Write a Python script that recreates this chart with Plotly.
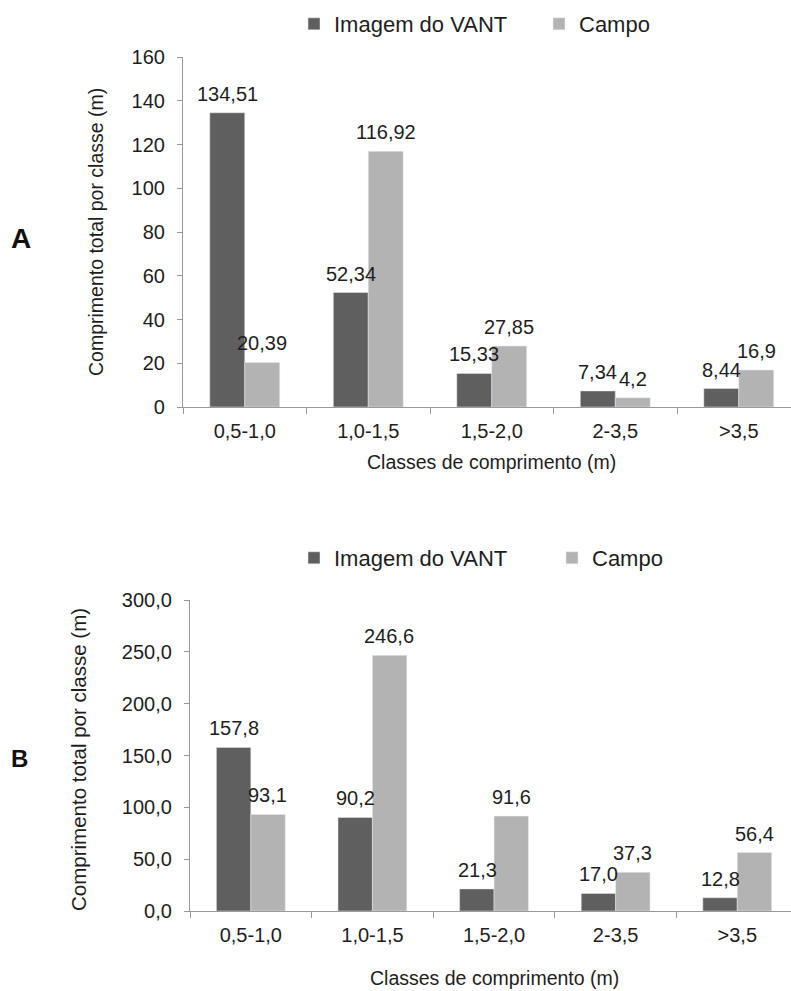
import plotly.graph_objects as go

W, H = 791, 991

categories = ["0,5-1,0", "1,0-1,5", "1,5-2,0", "2-3,5", ">3,5"]
series_names = ["Imagem do VANT", "Campo"]

# Panel A
a_vant = [134.51, 52.34, 15.33, 7.34, 8.44]
a_campo = [20.39, 116.92, 27.85, 4.2, 16.9]
a_vant_lbl = ["134,51", "52,34", "15,33", "7,34", "8,44"]
a_campo_lbl = ["20,39", "116,92", "27,85", "4,2", "16,9"]

# Panel B
b_vant = [157.8, 90.2, 21.3, 17.0, 12.8]
b_campo = [93.1, 246.6, 91.6, 37.3, 56.4]
b_vant_lbl = ["157,8", "90,2", "21,3", "17,0", "12,8"]
b_campo_lbl = ["93,1", "246,6", "91,6", "37,3", "56,4"]

x_title = "Classes de comprimento (m)"
y_title = "Comprimento total por classe (m)"

DARK = "#5f5f5f"
LIGHT = "#b3b3b3"
TXT = "#1e1e1e"
AX = "#9a9a9a"
FONT = "Liberation Sans, Arial, sans-serif"


def px_x(p):
    return p / W


def px_y(p):
    return 1 - p / H


fig = go.Figure()

fig.add_trace(go.Bar(x=categories, y=a_vant, name=series_names[0], marker_color=DARK,
                     xaxis="x", yaxis="y", legend="legend", hoverinfo="skip"))
fig.add_trace(go.Bar(x=categories, y=a_campo, name=series_names[1], marker_color=LIGHT,
                     xaxis="x", yaxis="y", legend="legend3", hoverinfo="skip"))
fig.add_trace(go.Bar(x=categories, y=b_vant, name=series_names[0], marker_color=DARK,
                     xaxis="x2", yaxis="y2", legend="legend2", hoverinfo="skip"))
fig.add_trace(go.Bar(x=categories, y=b_campo, name=series_names[1], marker_color=LIGHT,
                     xaxis="x2", yaxis="y2", legend="legend4", hoverinfo="skip"))

annotations = []
LBL = 20
YS = 6
for cat, v, t in zip(categories, a_vant, a_vant_lbl):
    annotations.append(dict(x=cat, y=v, xref="x", yref="y", text=t, showarrow=False,
                            xshift=-17.5, yshift=YS, yanchor="bottom",
                            font=dict(size=LBL, color=TXT)))
for cat, v, t in zip(categories, a_campo, a_campo_lbl):
    annotations.append(dict(x=cat, y=v, xref="x", yref="y", text=t, showarrow=False,
                            xshift=17.5, yshift=YS, yanchor="bottom",
                            font=dict(size=LBL, color=TXT)))
for cat, v, t in zip(categories, b_vant, b_vant_lbl):
    annotations.append(dict(x=cat, y=v, xref="x2", yref="y2", text=t, showarrow=False,
                            xshift=-17, yshift=YS, yanchor="bottom",
                            font=dict(size=LBL, color=TXT)))
for cat, v, t in zip(categories, b_campo, b_campo_lbl):
    annotations.append(dict(x=cat, y=v, xref="x2", yref="y2", text=t, showarrow=False,
                            xshift=17, yshift=YS, yanchor="bottom",
                            font=dict(size=LBL, color=TXT)))

# axis titles and panel letters
annotations += [
    dict(x=px_x(491), y=px_y(462), xref="paper", yref="paper", text=x_title, showarrow=False,
         font=dict(size=19.5, color=TXT), xanchor="center", yanchor="middle"),
    dict(x=px_x(494), y=px_y(978), xref="paper", yref="paper", text=x_title, showarrow=False,
         font=dict(size=19.5, color=TXT), xanchor="center", yanchor="middle"),
    dict(x=px_x(96), y=px_y(232), xref="paper", yref="paper", text=y_title, showarrow=False,
         textangle=-90, font=dict(size=19.5, color=TXT), xanchor="center", yanchor="middle"),
    dict(x=px_x(78), y=px_y(760), xref="paper", yref="paper", text=y_title, showarrow=False,
         textangle=-90, font=dict(size=20.5, color=TXT), xanchor="center", yanchor="middle"),
    dict(x=px_x(21), y=px_y(239), xref="paper", yref="paper", text="<b>A</b>", showarrow=False,
         font=dict(size=28, color="#111"), xanchor="center", yanchor="middle"),
    dict(x=px_x(19), y=px_y(758), xref="paper", yref="paper", text="<b>B</b>", showarrow=False,
         font=dict(size=24, color="#111"), xanchor="center", yanchor="middle"),
]

xcommon = dict(type="category", showline=True, linecolor=AX, linewidth=1.2,
               ticks="outside", tickson="boundaries", ticklen=6, tickcolor=AX,
               tickfont=dict(size=20, color=TXT), showgrid=False, zeroline=False,
               fixedrange=True, automargin=False)
ycommon = dict(showline=True, linecolor=AX, linewidth=1.2, ticks="outside", ticklen=5,
               tickcolor=AX, tickfont=dict(size=20, color=TXT), showgrid=False,
               zeroline=False, ticklabelstandoff=8, fixedrange=True, automargin=False)


def leg(xpx, ypx):
    return dict(orientation="h", x=px_x(xpx), y=px_y(ypx), xanchor="left", yanchor="middle",
                font=dict(size=22, color=TXT), bgcolor="rgba(0,0,0,0)", borderwidth=0)


fig.update_layout(
    width=W, height=H,
    margin=dict(l=0, r=0, t=0, b=0, autoexpand=False),
    paper_bgcolor="white", plot_bgcolor="white",
    font=dict(family=FONT, color=TXT),
    separators=",.",
    barmode="group", bargap=0.434, bargroupgap=0,
    showlegend=True,
    xaxis=dict(xcommon, domain=[px_x(183), 1], anchor="y", range=[-0.5, 4.423],
               ticklabelstandoff=6),
    yaxis=dict(ycommon, domain=[px_y(407), px_y(57)], anchor="x", range=[0, 160], dtick=20),
    xaxis2=dict(xcommon, domain=[px_x(190), 1], anchor="y2", range=[-0.5, 4.442],
                ticklabelstandoff=6),
    yaxis2=dict(ycommon, domain=[px_y(911), px_y(600)], anchor="x2", range=[0, 300],
                dtick=50, tickformat=".1f"),
    legend=leg(294, 24),
    legend3=leg(539, 24),
    legend2=leg(294, 558),
    legend4=leg(552, 558),
    annotations=annotations,
)

fig.write_html("out.html")
